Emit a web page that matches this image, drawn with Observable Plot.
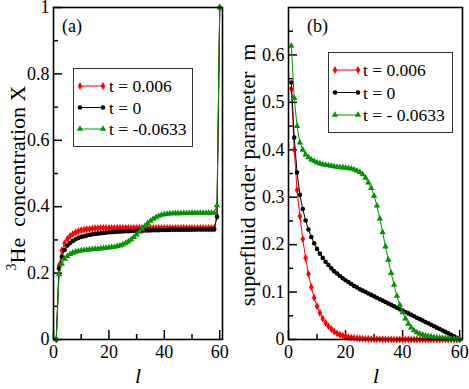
<!DOCTYPE html>
<html><head><meta charset="utf-8">
<script src="https://cdn.jsdelivr.net/npm/d3@7"></script>
<script src="https://cdn.jsdelivr.net/npm/@observablehq/plot@0.6"></script>
<style>
body{margin:0;background:#fff;}
#wrap{position:relative;width:469px;height:389px;font-family:"Liberation Serif",serif;}
#row{display:flex;}
#ov{position:absolute;left:0;top:0;pointer-events:none;}
svg text{font-family:"Liberation Serif",serif;}
</style></head><body>
<div id="wrap"><div id="row"></div>
<svg id="ov" width="469" height="389"></svg></div>
<script>
const lIdx = [1,2,3,4,5,6,7,8,9,10,11,12,13,14,15,16,17,18,19,20,21,22,23,24,25,26,27,28,29,30,
31,32,33,34,35,36,37,38,39,40,41,42,43,44,45,46,47,48,49,50,51,52,53,54,55,56,57,58,59,60];

const seriesNames = ["t = 0.006", "t = 0", "t = -0.0633"];
const seriesNamesB = ["t = 0.006", "t = 0", "t = - 0.0633"];
const colors = ["#ff0000", "#000000", "#009400"];
const symbols = ["diamond", "circle", "triangle"];

const leftRed = [0,0.223,0.268,0.290,0.303,0.312,0.318,0.323,0.326,0.329,
0.331,0.332,0.333,0.334,0.335,0.335,0.336,0.336,0.336,0.336,
0.336,0.336,0.336,0.336,0.336,0.336,0.336,0.336,0.336,0.336,
0.336,0.336,0.336,0.336,0.336,0.336,0.336,0.336,0.336,0.336,
0.336,0.336,0.336,0.336,0.336,0.336,0.336,0.336,0.336,0.336,
0.336,0.336,0.336,0.336,0.336,0.336,0.336,0.336,0.370,1.0];
const leftBlack = [0,0.214,0.250,0.270,0.283,0.291,0.297,0.302,0.306,0.309,
0.311,0.313,0.315,0.317,0.318,0.319,0.320,0.321,0.322,0.323,
0.3235,0.324,0.3245,0.325,0.3255,0.326,0.3263,0.3266,0.327,0.3273,
0.3276,0.3279,0.3282,0.3285,0.3288,0.329,0.3292,0.3294,0.3296,0.3298,
0.330,0.3302,0.3303,0.3304,0.3305,0.3306,0.3307,0.3308,0.3309,0.331,
0.331,0.3311,0.3311,0.3312,0.3312,0.3313,0.3313,0.3313,0.370,1.0];
const leftGreen = [0,0.196,0.228,0.243,0.251,0.257,0.261,0.264,0.266,0.268,
0.269,0.270,0.271,0.272,0.273,0.273,0.274,0.275,0.276,0.277,
0.278,0.279,0.281,0.283,0.286,0.290,0.295,0.301,0.308,0.316,
0.324,0.333,0.342,0.350,0.357,0.363,0.368,0.372,0.375,0.377,
0.378,0.379,0.3795,0.380,0.380,0.380,0.3805,0.3805,0.3805,0.381,
0.381,0.381,0.381,0.381,0.381,0.381,0.381,0.381,0.404,1.0];

const rightRed = [0.528,0.400,0.315,0.260,0.212,0.172,0.138,0.110,0.088,0.070,
0.056,0.044,0.035,0.028,0.022,0.017,0.013,0.010,0.008,0.006,
0.005,0.004,0.003,0.0025,0.002,0.0015,0.0012,0.001,0.0008,0.0006,
0.0005,0.0004,0.0003,0.0003,0.0002,0.0002,0.0001,0.0001,0.0001,0.0001,
0,0,0,0,0,0,0,0,0,0,
0,0,0,0,0,0,0,0,0,0];
const rightBlack = [0.542,0.426,0.352,0.305,0.275,0.251,0.232,0.216,0.203,0.191,
0.181,0.172,0.164,0.157,0.150,0.144,0.139,0.134,0.129,0.125,
0.121,0.117,0.113,0.110,0.106,0.103,0.100,0.097,0.094,0.091,
0.088,0.085,0.082,0.079,0.076,0.073,0.070,0.067,0.064,0.061,
0.058,0.055,0.052,0.049,0.046,0.043,0.040,0.037,0.034,0.031,
0.028,0.025,0.022,0.019,0.016,0.013,0.010,0.007,0.0035,0];
const rightGreen = [0.619,0.509,0.450,0.415,0.400,0.390,0.384,0.379,0.376,0.373,
0.371,0.369,0.368,0.367,0.366,0.365,0.364,0.363,0.363,0.362,
0.361,0.360,0.358,0.356,0.353,0.348,0.341,0.331,0.319,0.303,
0.282,0.255,0.226,0.196,0.168,0.140,0.115,0.092,0.073,0.057,
0.044,0.033,0.025,0.019,0.015,0.012,0.010,0.008,0.007,0.006,
0.005,0.004,0.0035,0.003,0.0025,0.002,0.0015,0.001,0.0005,0];

const xMajor = [0,20,40,60];
const xMinor = [10,30,50];
const yMajorA = [0,0.2,0.4,0.6,0.8,1];
const yMinorA = [0.1,0.3,0.5,0.7,0.9];
const yMajorB = [0,0.1,0.2,0.3,0.4,0.5,0.6];
const yMinorB = [0.05,0.15,0.25,0.35,0.45,0.55,0.65];

const FF = "Liberation Serif";

function panel({width, marginLeft, marginRight, yDomain, yMajor, yMinor, series}) {
  const H = 389, mt = 7, mb = 50;
  const pw = width - marginLeft - marginRight, ph = H - mt - mb;
  const marks = [
    Plot.axisX(xMajor, {tickSize: 0, tickPadding: 6, label: null, fontSize: 18, fontFamily: FF}),
    Plot.axisY(yMajor, {tickSize: 0, tickPadding: 4, label: null, fontSize: 18, fontFamily: FF, tickFormat: d => String(+d.toFixed(2))}),
    Plot.tickX(xMajor, {x: d => d, insetTop: ph - 9, stroke: "#000", strokeWidth: 1.5}),
    Plot.tickX(xMinor, {x: d => d, insetTop: ph - 5, stroke: "#000", strokeWidth: 1.5}),
    Plot.tickY(yMajor, {y: d => d, insetRight: pw - 9, stroke: "#000", strokeWidth: 1.5}),
    Plot.tickY(yMinor, {y: d => d, insetRight: pw - 5, stroke: "#000", strokeWidth: 1.5})
  ];
  series.forEach((arr, k) => {
    marks.push(Plot.line(arr, {x: (d, i) => lIdx[i], y: d => d, stroke: colors[k], strokeWidth: 1}));
    marks.push(Plot.dot(arr, {x: (d, i) => lIdx[i], y: d => d, fill: colors[k], stroke: "none", symbol: symbols[k], r: k === 1 ? 2.3 : 2.4}));
  });
  marks.push(Plot.frame({stroke: "#000", strokeWidth: 1.6}));
  const svg = Plot.plot({
    width, height: H, marginLeft, marginRight, marginTop: mt, marginBottom: mb,
    x: {domain: [0, 61]},
    y: {domain: yDomain},
    style: {fontFamily: FF, fontSize: "18px", color: "#000", background: "transparent", overflow: "visible"},
    marks
  });
  svg.style.fontFamily = '"Liberation Serif", serif';
  svg.style.fontSize = "18px";
  return svg;
}

const row = document.getElementById("row");
row.append(panel({width: 235, marginLeft: 53, marginRight: 13, yDomain: [0, 1], yMajor: yMajorA, yMinor: yMinorA, series: [leftRed, leftBlack, leftGreen]}));
row.append(panel({width: 234, marginLeft: 53, marginRight: 7, yDomain: [0, 0.7], yMajor: yMajorB, yMinor: yMinorB, series: [rightRed, rightBlack, rightGreen]}));

// overlay: labels and legends
const ov = d3.select("#ov");
function txt() { return ov.append("text").attr("font-family", FF).attr("fill", "#000"); }
txt().attr("x", 62).attr("y", 32).attr("font-size", 18).text("(a)");
txt().attr("x", 307).attr("y", 32).attr("font-size", 18).text("(b)");
const yl = txt().attr("transform", "translate(25,178) rotate(-90)").attr("text-anchor", "middle").attr("font-size", 22);
yl.append("tspan").attr("font-size", 14).attr("dy", -9).text("3");
yl.append("tspan").attr("dy", 9).text("He\u00a0 concentration X");
txt().attr("transform", "translate(255,175) rotate(-90)").attr("text-anchor", "middle").attr("font-size", 22).text("superfluid order parameter\u00a0 m");
txt().attr("x", 138).attr("y", 383).attr("text-anchor", "middle").attr("font-size", 22).attr("font-style", "italic").text("l");
txt().attr("x", 376).attr("y", 383).attr("text-anchor", "middle").attr("font-size", 22).attr("font-style", "italic").text("l");

function legend(x, y, w, h, x1, x2, tx, rows, names) {
  ov.append("rect").attr("x", x).attr("y", y).attr("width", w).attr("height", h).attr("fill", "#fff").attr("stroke", "#333").attr("stroke-width", 1);
  rows.forEach((cy, k) => {
    ov.append("line").attr("x1", x1).attr("x2", x2).attr("y1", cy).attr("y2", cy).attr("stroke", colors[k]).attr("stroke-width", 1);
    const sym = d3.symbol().type(k === 0 ? d3.symbolDiamond : k === 1 ? d3.symbolCircle : d3.symbolTriangle).size(k === 1 ? 17 : 18);
    [x1, x2].forEach(px => ov.append("path").attr("d", sym()).attr("transform", `translate(${px},${cy})`).attr("fill", colors[k]));
    txt().attr("x", tx).attr("y", cy + 6).attr("font-size", 17.5).text(names[k]);
  });
}
legend(73.5, 68.5, 119, 78, 80, 103, 109, [86, 107.5, 129], seriesNames);
legend(328.5, 52.5, 124, 80, 335, 358, 363, [70, 92.5, 115], seriesNamesB);
</script>
</body></html>
